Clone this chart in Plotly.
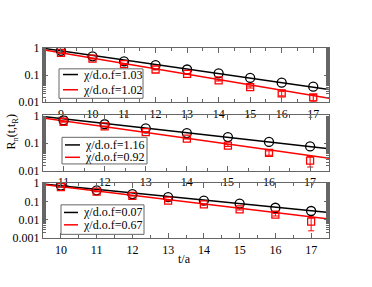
import plotly.graph_objects as go

# ---- data ----
t1 = [9, 10, 11, 12, 13, 14, 15, 16, 17]
black1 = [0.78, 0.49, 0.32, 0.23, 0.16, 0.115, 0.078, 0.052, 0.037]
red1 = [0.65, 0.40, 0.25, 0.16, 0.11, 0.063, 0.036, 0.021, 0.015]
red1_err = [0.02, 0.012, 0.008, 0.005, 0.004, 0.003, 0.003, 0.004, 0.004]
fit1_x = [8.43, 17.5]
fit1_black = [0.97, 0.029]
fit1_red = [0.85, 0.014]

t2 = [11, 12, 13, 14, 15, 16, 17]
black2 = [0.67, 0.48, 0.34, 0.23, 0.165, 0.11, 0.075]
red2 = [0.59, 0.40, 0.25, 0.145, 0.081, 0.044, 0.023]
red2_err = [0.02, 0.012, 0.008, 0.006, 0.006, 0.008, 0.0095]
fit2_x = [10.5, 17.46]
fit2_black = [0.92, 0.062]
fit2_red = [0.81, 0.028]

t3 = [10, 11, 12, 13, 14, 15, 16, 17]
black3 = [0.72, 0.40, 0.25, 0.17, 0.11, 0.075, 0.045, 0.030]
red3 = [0.60, 0.34, 0.20, 0.11, 0.068, 0.037, 0.019, 0.008]
red3_err = [0.02, 0.01, 0.006, 0.004, 0.003, 0.003, 0.003, 0.0055]
fit3_x = [9.5, 17.5]
fit3_black = [0.89, 0.025]
fit3_red = [0.82, 0.011]

labels1 = ["\u03c7/d.o.f=1.03", "\u03c7/d.o.f=1.02"]
labels2 = ["\u03c7/d.o.f=1.16", "\u03c7/d.o.f=0.92"]
labels3 = ["\u03c7/d.o.f=0.07", "\u03c7/d.o.f=0.67"]

FONT = "Liberation Serif"
W, H = 372, 287
OFF = 0  # body margin removed by post_script


def xp(px):
    return (px - OFF) / W


def yp(py):
    return 1 - (py - OFF) / H


fig = go.Figure()

panels = [
    (t1, black1, red1, red1_err, fit1_x, fit1_black, fit1_red, "x", "y"),
    (t2, black2, red2, red2_err, fit2_x, fit2_black, fit2_red, "x2", "y2"),
    (t3, black3, red3, red3_err, fit3_x, fit3_black, fit3_red, "x3", "y3"),
]

for (t, bl, rd, rerr, fx, fb, fr, xa, ya) in panels:
    fig.add_trace(go.Scatter(x=fx, y=fb, mode="lines", line=dict(color="black", width=1.5),
                             showlegend=False, xaxis=xa, yaxis=ya))
    fig.add_trace(go.Scatter(x=fx, y=fr, mode="lines", line=dict(color="red", width=1.5),
                             showlegend=False, xaxis=xa, yaxis=ya))
    fig.add_trace(go.Scatter(x=t, y=bl, mode="markers", showlegend=False,
                             marker=dict(symbol="circle-open", size=9, color="black", line=dict(width=1.3)),
                             xaxis=xa, yaxis=ya))
    fig.add_trace(go.Scatter(x=t, y=rd, mode="markers", showlegend=False,
                             marker=dict(symbol="square-open", size=7, color="red", line=dict(width=1.3)),
                             error_y=dict(type="data", array=rerr, color="red", thickness=1, width=3),
                             xaxis=xa, yaxis=ya))

xdom = [xp(43), xp(329)]


def ydom(top, bot):
    return [yp(bot), yp(top)]


FRAME = "#666"
axis_common = dict(showline=True, linecolor=FRAME, linewidth=1, mirror="allticks",
                   ticks="inside", ticklen=5, tickcolor=FRAME, showgrid=False, zeroline=False,
                   tickfont=dict(family=FONT, size=12, color="black"))
xt = dict(minor=dict(ticks="inside", ticklen=3, dtick=0.5, tickcolor=FRAME, showgrid=False))
yminor = dict(ticks="inside", ticklen=3, tickcolor=FRAME, showgrid=False)

fig.update_layout(
    width=W, height=H, margin=dict(l=0, r=0, t=0, b=0),
    plot_bgcolor="white", paper_bgcolor="white", showlegend=False,
    xaxis=dict(domain=xdom, range=[8.43, 17.5], anchor="y", tickvals=t1, **axis_common, **xt),
    xaxis2=dict(domain=xdom, range=[10.5, 17.46], anchor="y2", tickvals=t2, **axis_common, **xt),
    xaxis3=dict(domain=xdom, range=[9.5, 17.5], anchor="y3", tickvals=t3, **axis_common, **xt),
    yaxis=dict(domain=ydom(43, 100), type="log", range=[-2, 0], anchor="x",
               tickvals=[0.01, 0.1, 1], ticktext=["0.01", "0.1", "1"], minor=yminor, **axis_common),
    yaxis2=dict(domain=ydom(114, 172), type="log", range=[-2, 0], anchor="x2",
                tickvals=[0.01, 0.1, 1], ticktext=["0.01", "0.1", "1"], minor=yminor, **axis_common),
    yaxis3=dict(domain=ydom(185, 243), type="log", range=[-3, 0], anchor="x3",
                tickvals=[0.001, 0.01, 0.1, 1], ticktext=["0.001", "0.01", "0.1", "1"],
                minor=yminor, **axis_common),
)

# manual legends (box, line samples, texts) in page pixel positions
legends = [
    (labels1, (59, 65, 143, 96), (71, 87), (63, 78), 81),
    (labels2, (62, 137, 147, 165), (145, 158), (65, 80), 83),
    (labels3, (61, 208, 144, 239), (216, 229), (64, 78), 81),
]
for labs, (x0, y0, x1, y1), (ly1, ly2), (lx0, lx1), tx in legends:
    fig.add_shape(type="rect", xref="paper", yref="paper", x0=xp(x0), x1=xp(x1), y0=yp(y1), y1=yp(y0),
                  line=dict(color=FRAME, width=1), fillcolor="white", layer="above")
    for ly, col, lab in ((ly1, "black", labs[0]), (ly2, "red", labs[1])):
        fig.add_shape(type="line", xref="paper", yref="paper", x0=xp(lx0), x1=xp(lx1), y0=yp(ly), y1=yp(ly),
                      line=dict(color=col, width=1.5), layer="above")
        fig.add_annotation(text=lab, x=xp(tx), y=yp(ly), xref="paper", yref="paper", xanchor="left",
                           yanchor="middle", showarrow=False, font=dict(family=FONT, size=12, color="black"))

fig.add_annotation(text="t/a", x=xp(184), y=yp(265), xref="paper", yref="paper",
                   xanchor="center", yanchor="middle",
                   showarrow=False, font=dict(family=FONT, size=12, color="black"))
fig.add_annotation(text="R<sub>n</sub>(t,t<sub>R</sub>)", x=xp(12), y=yp(132),
                   xref="paper", yref="paper", textangle=-90, showarrow=False,
                   xanchor="center", yanchor="middle",
                   font=dict(family=FONT, size=12, color="black"))

fig.write_html("out.html", config={"displayModeBar": False},
               post_script="document.body.style.margin='0';")
